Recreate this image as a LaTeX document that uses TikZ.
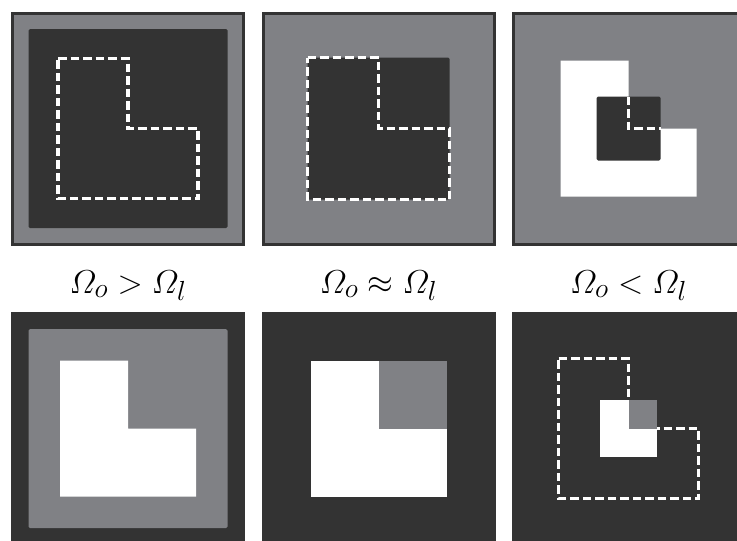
\documentclass[tikz,border=0pt]{standalone}
\usepackage{amsmath,amssymb}
\usepackage{tikz}
\usetikzlibrary{positioning}
\definecolor{sotet}{RGB}{51,51,51}
\definecolor{szurke}{RGB}{128,129,133}
\tikzset{
  keret/.style={draw=sotet,line width=3pt,fill=szurke},
  hatter/.style={fill=sotet},
  negyzet/.style={rounded corners=1.5pt},
  szagg/.style={draw=white,line width=3.3pt,dash pattern=on 8.5pt off 4pt},
  felirat/.style={font=\Huge,scale=1.33,transform shape,anchor=base,inner sep=0pt},
}

\begin{document}
\begin{tikzpicture}[x=1pt,y=-1pt]
  \useasboundingbox (0,0) rectangle (737,541);
  \clip (0,0) rectangle (737,541);
  % 1. fent balra
  \begin{scope}[shift={(128,128.5)}]
    \filldraw[keret] (-115.5,-115.5) rectangle (115.5,115.5);
    \fill[sotet,negyzet] (-99.5,-99.5) rectangle (99.5,99.5);
    \draw[szagg] (-70,-70) -- (0,-70) -- (0,0) -- (70,0) -- (70,70) -- (-70,70) -- cycle;
  \end{scope}
  % 2. fent kozepen
  \begin{scope}[shift={(378.5,128.5)}]
    \filldraw[keret] (-115.5,-115.5) rectangle (115.5,115.5);
    \fill[sotet,negyzet] (-71,-71) rectangle (71,71);
    \draw[szagg] (-71,-71) -- (0,-71) -- (0,0) -- (71,0) -- (71,71) -- (-71,71) -- cycle;
  \end{scope}
  % 3. fent jobbra
  \begin{scope}[shift={(628.5,128.5)}]
    \filldraw[keret] (-115.5,-115.5) rectangle (115.5,115.5);
    \fill[white] (-68,-68) -- (0,-68) -- (0,0) -- (68,0) -- (68,68) -- (-68,68) -- cycle;
    \fill[sotet,negyzet] (-32,-32) rectangle (32,32);
    \draw[szagg] (0,-32) -- (0,0) -- (32,0);
  \end{scope}
  % feliratok
  \node[felirat] (cimke1) at (128,293) {$\varOmega_o > \varOmega_l$};
  \node[felirat] (cimke2) at (378.5,293) {$\varOmega_o \approx \varOmega_l$};
  \node[felirat] (cimke3) at (628.5,293) {$\varOmega_o < \varOmega_l$};
  % 4. lent balra
  \begin{scope}[shift={(128,428.5)}]
    \fill[hatter] (-117,-117) rectangle (117,117);
    \fill[szurke,negyzet] (-99.5,-99.5) rectangle (99.5,99.5);
    \fill[white] (-68,-68) -- (0,-68) -- (0,0) -- (68,0) -- (68,68) -- (-68,68) -- cycle;
  \end{scope}
  % 5. lent kozepen
  \begin{scope}[shift={(378.5,428.5)}]
    \fill[hatter] (-117,-117) rectangle (117,117);
    \fill[white] (-68,-68) rectangle (68,68);
    \fill[szurke] (0,-68) rectangle (68,0);
  \end{scope}
  % 6. lent jobbra
  \begin{scope}[shift={(628.5,428.5)}]
    \fill[hatter] (-117,-117) rectangle (117,117);
    \draw[szagg] (-70,-70) -- (0,-70) -- (0,0) -- (70,0) -- (70,70) -- (-70,70) -- cycle;
    \fill[white] (-28.5,-28.5) rectangle (28.5,28.5);
    \fill[szurke] (0,-28.5) rectangle (28.5,0);
  \end{scope}
\end{tikzpicture}
\end{document}
